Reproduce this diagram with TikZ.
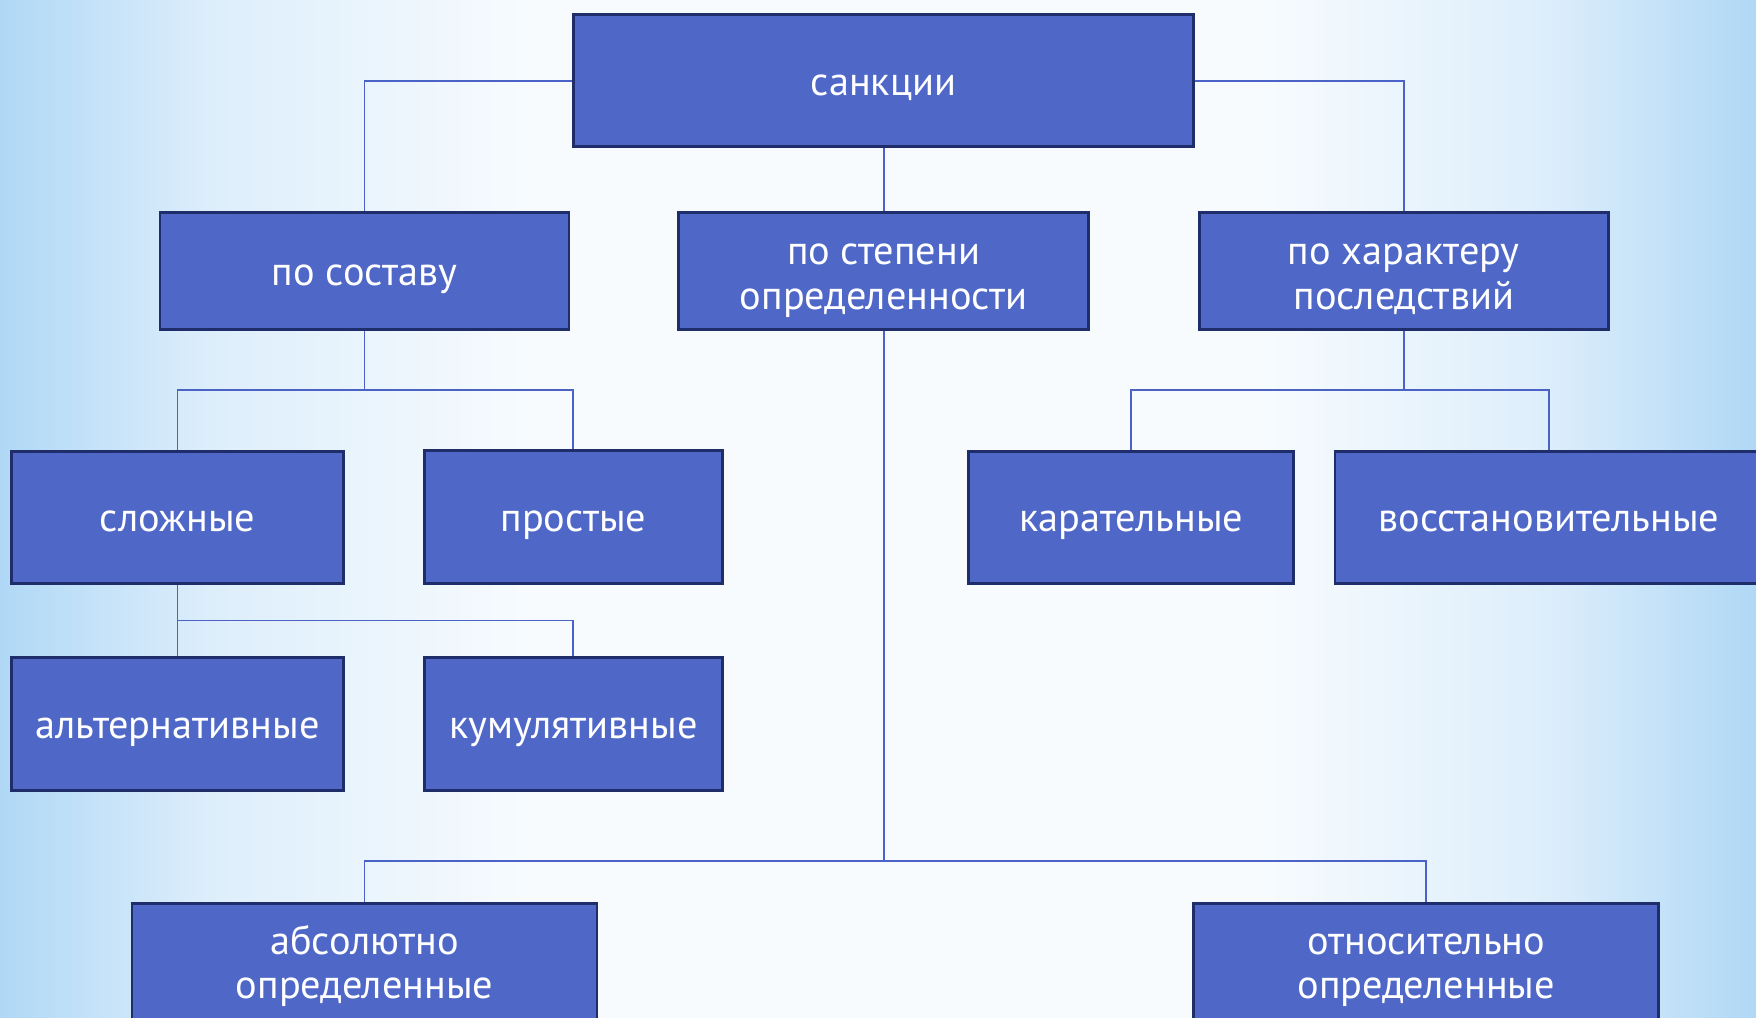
\documentclass[tikz,border=0pt]{standalone}
\usepackage{fontspec}
\setmainfont{PT Sans}
\definecolor{boxfill}{HTML}{4F68C8}
\definecolor{boxline}{HTML}{1F2D6B}
\definecolor{conn}{HTML}{4B63C6}
\definecolor{bgblue}{HTML}{B0D8F6}
\definecolor{bgmid}{HTML}{DDEEFB}
\definecolor{bgwhite}{HTML}{F7FBFE}
\pgfdeclarehorizontalshading{bgsh}{100bp}{color(0bp)=(bgblue); color(25bp)=(bgblue); color(31bp)=(bgmid); color(40bp)=(bgwhite); color(61bp)=(bgwhite); color(69bp)=(bgmid); color(75bp)=(bgblue); color(100bp)=(bgblue)}
\begin{document}
\begin{tikzpicture}[x=0.5pt,y=-0.5pt,
  box/.style={draw=boxline,line width=1.2pt,fill=boxfill,text=white,inner sep=0pt,
    align=center,font=\fontsize{18pt}{20pt}\selectfont,text height=13pt,text depth=0pt},
  twoline/.style={text height=34pt,text depth=0pt},
  conline/.style={draw=conn,line width=0.8pt}]
\useasboundingbox (0,0) rectangle (1568,909);
\clip (0,0) rectangle (1568,909);
\shade[shading=bgsh] (0,0) rectangle (1568,909);
% boxes
\node[box,minimum width={554*0.5pt},minimum height={118*0.5pt}] (s) at (789,72) {санкции};
\node[box,minimum width={365*0.5pt},minimum height={104*0.5pt}] (sost) at (325.5,242) {по составу};
\node[box,twoline,minimum width={366*0.5pt},minimum height={104*0.5pt}] (step) at (789,242) {по степени\\определенности};
\node[box,twoline,minimum width={365*0.5pt},minimum height={104*0.5pt}] (har) at (1253.5,242) {по характеру\\последствий};
\node[box,minimum width={297*0.5pt},minimum height={118*0.5pt}] (slozh) at (158.5,462) {сложные};
\node[box,minimum width={266*0.5pt},minimum height={119*0.5pt}] (prost) at (512,461.5) {простые};
\node[box,minimum width={290*0.5pt},minimum height={118*0.5pt}] (kar) at (1010,462) {карательные};
\node[box,minimum width={382*0.5pt},minimum height={118*0.5pt}] (vos) at (1383,462) {восстановительные};
\node[box,minimum width={297*0.5pt},minimum height={119*0.5pt}] (alt) at (158.5,646.5) {альтернативные};
\node[box,minimum width={266*0.5pt},minimum height={119*0.5pt}] (kum) at (512,646.5) {кумулятивные};
\node[box,twoline,text height=31pt,minimum width={415*0.5pt},minimum height={108*0.5pt}] (abs) at (325.5,861) {абсолютно\\определенные};
\node[box,twoline,text height=31pt,minimum width={415*0.5pt},minimum height={108*0.5pt}] (otn) at (1273.5,861) {относительно\\определенные};
% bus coordinates
\coordinate (b1) at (325.5,348);
\coordinate (b2) at (1253.5,348);
\coordinate (b3) at (158.5,554);
\coordinate (b4) at (789,769);
% connectors
\draw[conline] (s.west) -| (sost.north);
\draw[conline] (s.east) -| (har.north);
\draw[conline] (s.south) -- (step.north);
\draw[conline] (sost.south) -- (b1);
\draw[conline] (slozh.north) |- (b1) -| (prost.north);
\draw[conline] (har.south) -- (b2);
\draw[conline] (kar.north) |- (b2) -| (vos.north);
\draw[conline] (slozh.south) -- (alt.north);
\draw[conline] (b3) -| (kum.north);
\draw[conline] (step.south) -- (b4);
\draw[conline] (abs.north) |- (b4) -| (otn.north);
\end{tikzpicture}
\end{document}
